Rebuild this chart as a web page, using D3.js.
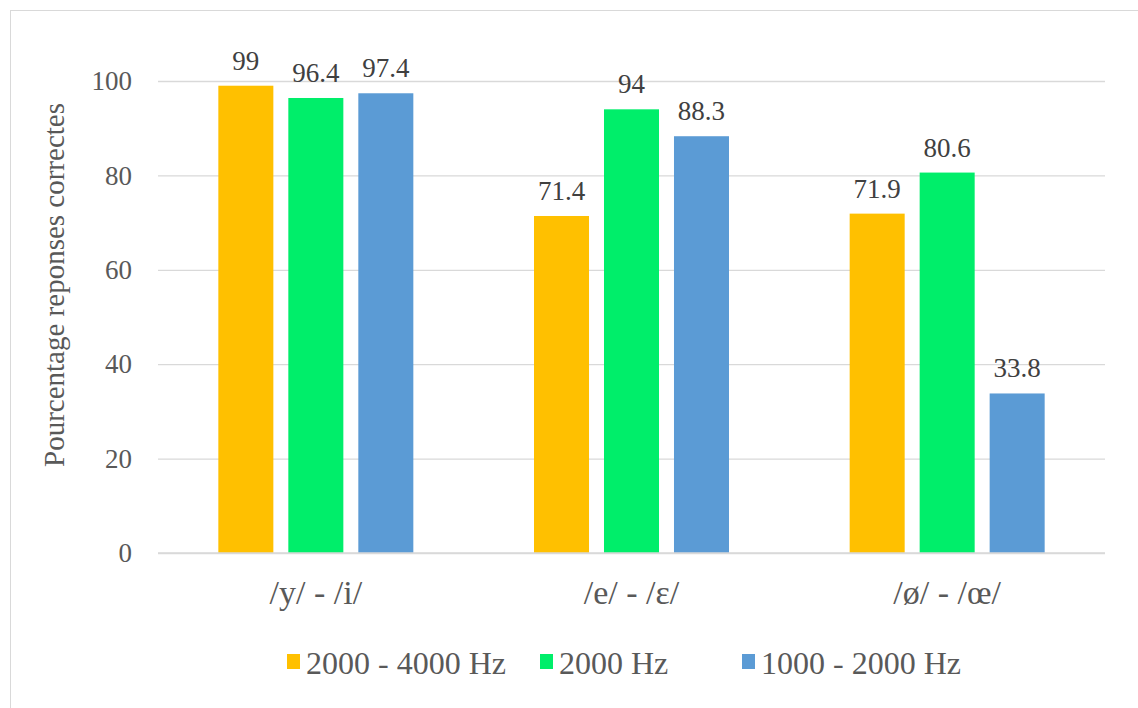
<!DOCTYPE html>
<html><head><meta charset="utf-8">
<script src="https://cdn.jsdelivr.net/npm/d3@7"></script>
<style>body{margin:0;background:#fff} svg text{font-family:"Liberation Serif","Times New Roman",serif}</style>
</head><body>
<svg id="c" width="1138" height="708"></svg>
<script>
const categories = ["/y/ - /i/", "/e/ - /ε/", "/ø/ - /œ/"];
const seriesNames = ["2000 - 4000 Hz", "2000 Hz", "1000 - 2000 Hz"];
const s1 = [99, 71.4, 71.9];
const s2 = [96.4, 94, 80.6];
const s3 = [97.4, 88.3, 33.8];
const yTicks = [0, 20, 40, 60, 80, 100];
const colors = ["#FFC000", "#00EE6A", "#5B9BD5"];
const series = [s1, s2, s3];
const SERIF = '"Liberation Serif", "Times New Roman", serif';

const svg = d3.select("#c");
svg.append("rect").attr("x", 10.5).attr("y", 10.5).attr("width", 1140).attr("height", 710)
  .attr("fill", "#fff").attr("stroke", "#d9d9d9").attr("stroke-width", 1);

const L = 158, R = 1105, T = 81, B = 553;
const x = d3.scaleBand().domain(categories).range([L, R]);
const xi = d3.scaleBand().domain(d3.range(series.length)).range([0, x.bandwidth()]).paddingInner(0.214).paddingOuter(0.862);
const y = d3.scaleLinear().domain([0, 100]).range([B, T]);

const ya = svg.append("g").attr("transform", `translate(${L},0)`)
  .call(d3.axisLeft(y).tickValues(yTicks).tickSize(-(R - L)).tickPadding(26));
ya.select(".domain").remove();
ya.selectAll(".tick line").attr("stroke", "#d9d9d9").attr("stroke-width", 1.3);
ya.selectAll(".tick text").style("font-family", SERIF).style("font-size", "27px").attr("fill", "#595959");

series.forEach((s, k) => {
  const g = svg.append("g");
  g.selectAll("rect").data(s).join("rect")
    .attr("x", (d, i) => x(categories[i]) + xi(k))
    .attr("y", d => y(d)).attr("width", xi.bandwidth()).attr("height", d => B - y(d))
    .attr("fill", colors[k]);
  g.selectAll("text").data(s).join("text")
    .attr("x", (d, i) => x(categories[i]) + xi(k) + xi.bandwidth() / 2)
    .attr("y", d => y(d) - 16).attr("text-anchor", "middle")
    .style("font-family", SERIF).style("font-size", "27px").attr("fill", "#404040")
    .text(d => d);
});

const xa = svg.append("g").attr("transform", `translate(0,${B})`)
  .call(d3.axisBottom(x).tickSize(0).tickPadding(27));
xa.select(".domain").remove();
xa.selectAll(".tick text").style("font-family", SERIF).style("font-size", "34px").attr("fill", "#595959");
svg.append("line").attr("x1", L).attr("x2", R).attr("y1", B).attr("y2", B).attr("stroke", "#d9d9d9").attr("stroke-width", 1.3);

svg.append("text").attr("transform", `translate(64,285) rotate(-90)`)
  .attr("text-anchor", "middle").style("font-family", SERIF).style("font-size", "29px")
  .attr("fill", "#595959").text("Pourcentage reponses correctes");

const legX = [287, 540, 742];
const lg = svg.append("g");
seriesNames.forEach((n, k) => {
  lg.append("rect").attr("x", legX[k]).attr("y", 654).attr("width", 13).attr("height", 15).attr("fill", colors[k]);
  lg.append("text").attr("x", legX[k] + 19).attr("y", 674).style("font-family", SERIF)
    .style("font-size", "32px").attr("fill", "#595959").text(n);
});
</script>
</body></html>
